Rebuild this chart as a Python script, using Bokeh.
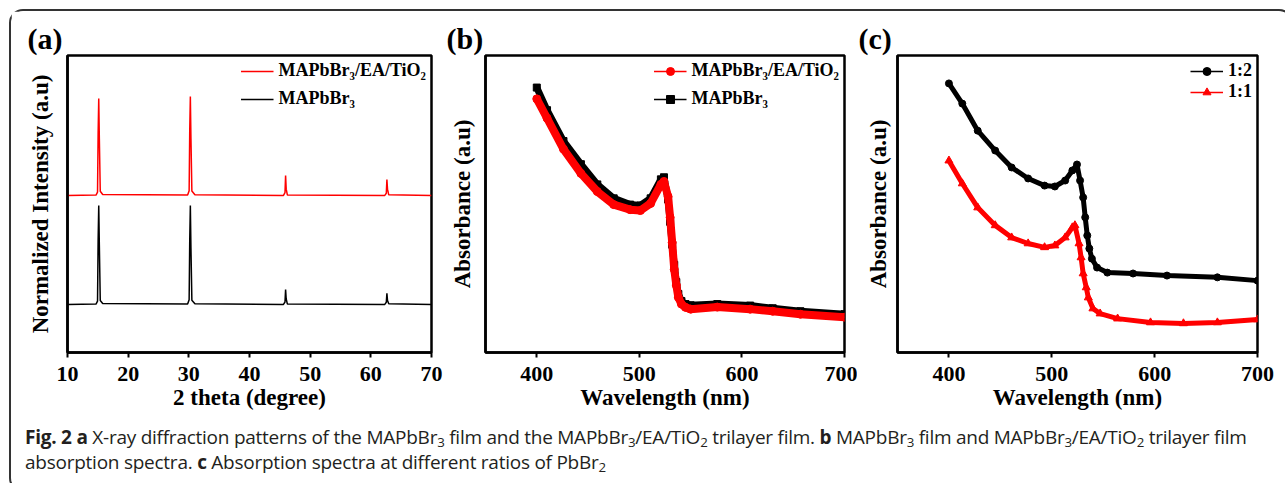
from bokeh.plotting import figure
from bokeh.layouts import row, column
from bokeh.models import Range1d, FixedTicker, Legend, LegendItem, Div
from bokeh.embed import file_html
from bokeh.resources import INLINE

# ---------------- data ----------------
# (a) XRD patterns (normalized intensity, stacked)
xrd_theta = [10.0, 14.7, 14.95, 15.05, 15.15, 15.25, 15.4, 15.8, 29.8, 30.05, 30.15, 30.25,
             30.35, 30.5, 31.0, 45.6, 45.85, 45.95, 46.05, 46.25, 62.3, 62.55, 62.65, 62.75,
             62.95, 70.0]
xrd_trilayer = [52.9, 53.0, 54.0, 74.0, 85.5, 72.0, 54.3, 53.2, 53.0, 54.5, 75.0, 86.2,
                72.0, 54.4, 53.1, 52.9, 53.8, 59.6, 55.0, 53.0, 52.9, 53.6, 58.2, 55.0,
                53.1, 52.9]
xrd_film = [16.2, 16.3, 17.3, 38.0, 49.5, 36.0, 17.5, 16.5, 16.3, 17.8, 38.0, 49.5,
            35.0, 17.6, 16.4, 16.2, 17.0, 21.2, 18.0, 16.3, 16.2, 16.9, 19.9, 17.5,
            16.4, 16.2]
xrd_ticks = [10, 20, 30, 40, 50, 60, 70]

# (b) absorption spectra
wl_b = [400, 410, 426, 443, 459, 475, 491, 501, 511, 521, 524, 528, 530, 532, 534, 536,
        538, 541, 545, 550, 576, 608, 630, 657, 700]
abs_b_film = [89.2, 81.6, 71.2, 63.4, 56.6, 51.9, 49.8, 49.5, 51.9, 58.3, 59.0, 51.5, 44.0,
              36.3, 29.5, 23.7, 19.7, 17.3, 16.3, 15.9, 16.3, 15.8, 14.9, 13.9, 12.9]
abs_b_trilayer = [85.4, 78.9, 68.5, 60.3, 54.2, 49.8, 48.1, 47.8, 50.2, 56.6, 57.6, 52.5,
                  45.5, 37.0, 28.0, 22.7, 18.6, 16.3, 15.2, 14.6, 15.3, 14.6, 13.9, 12.9,
                  11.9]

# (c) absorption spectra at different PbBr2 ratios
wl_c12 = [400, 413, 428, 445, 461, 477, 493, 503, 513, 520, 524.5, 527.5, 530.5, 532.5,
          534.5, 536.5, 539, 544, 554, 579, 612, 661, 700]
abs_c12 = [90.6, 83.8, 74.7, 68.0, 62.3, 58.6, 56.2, 55.9, 57.9, 61.3, 63.3, 57.9, 52.2,
           45.5, 39.4, 35.0, 31.6, 28.6, 26.9, 26.6, 25.9, 25.3, 24.2]
wl_c11 = [400, 413, 428, 445, 461, 477, 493, 503, 513, 520, 522.5, 526.5, 528.5, 530.5,
          533.5, 535.5, 540, 547, 564, 596, 628, 661, 700]
abs_c11 = [64.6, 56.9, 48.8, 42.8, 38.7, 36.7, 35.4, 36.0, 38.7, 42.1, 42.8, 36.7, 32.0,
           26.6, 21.9, 18.5, 14.8, 13.1, 11.4, 10.1, 9.8, 10.1, 11.1]
wl_ticks = [400, 500, 600, 700]

# ---------------- styling ----------------
SERIF = "Liberation Serif"
RED = "#ff0000"
BLK = "#000000"
FIG_H = 405


def make_fig(title, title_offset, width, left, right, xr, ticks, xlabel, ylabel, ystand):
    p = figure(title=title, width=width, height=FIG_H, output_backend="svg",
               toolbar_location=None, x_range=Range1d(*xr), y_range=Range1d(0, 100),
               min_border_left=left, min_border_right=right,
               min_border_top=44, min_border_bottom=64)
    p.title.text_font = SERIF
    p.title.text_font_style = "bold"
    p.title.text_font_size = "30px"
    p.title.text_color = "black"
    p.title.align = "left"
    p.title.offset = title_offset
    p.title.standoff = 1
    p.grid.visible = False
    p.background_fill_color = "white"
    p.border_fill_color = "white"
    p.outline_line_color = "black"
    p.outline_line_width = 2.5
    p.outline_line_alpha = 1
    p.xaxis.ticker = FixedTicker(ticks=ticks)
    p.xaxis.axis_label = xlabel
    p.yaxis.axis_label = ylabel
    p.yaxis.ticker = FixedTicker(ticks=[])
    for ax in (p.xaxis, p.yaxis):
        ax.axis_line_width = 2.5
        ax.axis_line_color = "black"
        ax.major_tick_line_width = 2
        ax.major_tick_out = 5
        ax.major_tick_in = 0
        ax.minor_tick_line_color = None
        ax.major_label_text_font = SERIF
        ax.major_label_text_font_style = "bold"
        ax.major_label_text_font_size = "22px"
        ax.major_label_text_color = "black"
        ax.axis_label_text_font = SERIF
        ax.axis_label_text_font_style = "bold"
        ax.axis_label_text_font_size = "23px"
        ax.axis_label_text_color = "black"
    p.xaxis.major_label_standoff = 9
    p.xaxis.axis_label_standoff = 1
    p.yaxis.axis_label_standoff = ystand
    return p


def legend(p, items, spacing):
    leg = Legend(items=items, location="top_right", border_line_color=None,
                 background_fill_alpha=0, label_text_font=SERIF,
                 label_text_font_style="bold", label_text_font_size="18px",
                 label_text_color="black", glyph_width=33, glyph_height=20,
                 label_height=20, spacing=spacing, padding=3, margin=5,
                 label_standoff=5)
    p.add_layout(leg)


# ---------------- (a) ----------------
pa = make_fig("(a)", -40, 434, 56, 14, (10, 70), xrd_ticks, "2 theta (degree)",
              "Normalized Intensity (a.u)", 15)
ra_red = pa.line(xrd_theta, xrd_trilayer, line_color=RED, line_width=1.5)
ra_blk = pa.line(xrd_theta, xrd_film, line_color=BLK, line_width=1.5)
legend(pa, [LegendItem(label="MAPbBr₃/EA/TiO₂", renderers=[ra_red]),
            LegendItem(label="MAPbBr₃", renderers=[ra_blk])], 7)

# ---------------- (b) ----------------
pb = make_fig("(b)", -39, 412, 40, 13, (350, 700), wl_ticks, "Wavelength (nm)",
              "Absorbance (a.u)", 11)
pb.line(wl_b, abs_b_film, line_color=BLK, line_width=7)
rb_blk_l = pb.line(wl_b, abs_b_film, line_color=BLK, line_width=1.5)
rb_blk_m = pb.scatter(wl_b, abs_b_film, marker="square", size=7, color=BLK)
pb.line(wl_b, abs_b_trilayer, line_color=RED, line_width=8)
rb_red_l = pb.line(wl_b, abs_b_trilayer, line_color=RED, line_width=1.5)
rb_red_m = pb.scatter(wl_b, abs_b_trilayer, marker="circle", size=8, color=RED)
legend(pb, [LegendItem(label="MAPbBr₃/EA/TiO₂", renderers=[rb_red_l, rb_red_m]),
            LegendItem(label="MAPbBr₃", renderers=[rb_blk_l, rb_blk_m])], 7)

# ---------------- (c) ----------------
pc = make_fig("(c)", -39, 424, 40, 24, (350, 700), wl_ticks, "Wavelength (nm)",
              "Absorbance (a.u)", 7)
pc.line(wl_c12, abs_c12, line_color=BLK, line_width=5)
rc_blk_l = pc.line(wl_c12, abs_c12, line_color=BLK, line_width=1.5)
rc_blk_m = pc.scatter(wl_c12, abs_c12, marker="circle", size=7, color=BLK)
pc.line(wl_c11, abs_c11, line_color=RED, line_width=5)
rc_red_l = pc.line(wl_c11, abs_c11, line_color=RED, line_width=1.5)
rc_red_m = pc.scatter(wl_c11, abs_c11, marker="triangle", size=8, color=RED)
legend(pc, [LegendItem(label="1:2", renderers=[rc_blk_l, rc_blk_m]),
            LegendItem(label="1:1", renderers=[rc_red_l, rc_red_m])], 0)

# ---------------- caption ----------------
SUB = '<sub style="font-size:70%;line-height:0;vertical-align:-0.25em">'
caption = Div(
    text=("<b>Fig. 2</b> <b>a</b> X-ray diffraction patterns of the MAPbBr" + SUB + "3</sub> film and the "
          "MAPbBr" + SUB + "3</sub>/EA/TiO" + SUB + "2</sub> trilayer film. <b>b</b> MAPbBr" + SUB +
          "3</sub> film and MAPbBr" + SUB + "3</sub>/EA/TiO" + SUB + "2</sub> trilayer film<br>"
          "absorption spectra. <b>c</b> Absorption spectra at different ratios of PbBr" + SUB + "2</sub>"),
    width=1270, height=64,
    styles={"font-family": "Open Sans", "font-size": "19px", "line-height": "25px",
            "letter-spacing": "-0.25px", "color": "#231f20", "padding-left": "9px",
            "padding-top": "4px", "white-space": "nowrap"})

layout = column(row(pa, pb, pc), caption,
                styles={"border": "2px solid #333333", "border-radius": "14px",
                        "background-color": "white", "margin-left": "9px",
                        "margin-top": "9px"})

open("out.html", "w").write(file_html(layout, INLINE))
